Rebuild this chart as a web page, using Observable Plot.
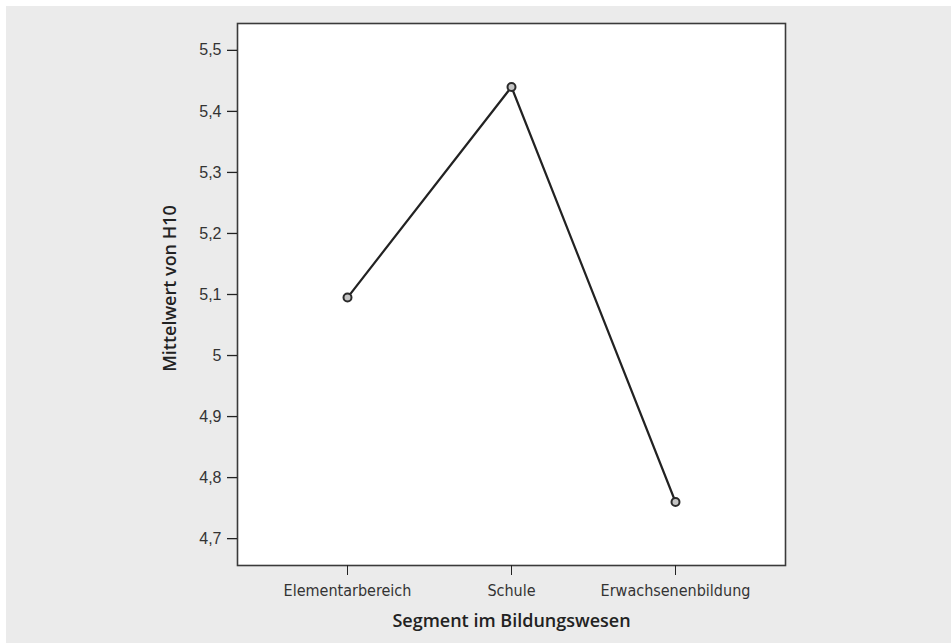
<!DOCTYPE html>
<html><head><meta charset="utf-8">
<script src="https://cdn.jsdelivr.net/npm/d3@7"></script>
<script src="https://cdn.jsdelivr.net/npm/@observablehq/plot@0.6"></script>
<style>
html,body{margin:0;padding:0;background:#fff;}
#bg{position:absolute;left:6px;top:6px;width:945px;height:637px;background:#ebebeb;}
</style></head><body><div id="bg"></div>
<script>
const segments = ["Elementarbereich", "Schule", "Erwachsenenbildung"];
const means = [5.095, 5.44, 4.76];
const yTicks = [4.7, 4.8, 4.9, 5.0, 5.1, 5.2, 5.3, 5.4, 5.5];
const yTickLabels = ["4,7", "4,8", "4,9", "5", "5,1", "5,2", "5,3", "5,4", "5,5"];
const xTitle = "Segment im Bildungswesen";
const yTitle = "Mittelwert von H10";

const data = segments.map((s, i) => ({segment: s, mean: means[i]}));

const plot = Plot.plot({
  width: 945, height: 637,
  marginLeft: 231, marginTop: 17, marginRight: 166, marginBottom: 78,
  style: {background: "transparent", overflow: "visible"},
  x: {type: "point", domain: segments, padding: 0.667},
  y: {domain: [4.656, 5.544]},
  marks: [
    Plot.frame({fill: "white", stroke: "#3a3a3a", strokeWidth: 1.6}),
    Plot.axisY({ticks: yTicks, tickFormat: d => yTickLabels[yTicks.indexOf(d)], tickSize: 10, tickPadding: 6,
      stroke: "#222", strokeWidth: 1.3, fill: "#333", fontSize: 16, fontFamily: "Liberation Sans, Arial, sans-serif", label: null}),
    Plot.axisX({tickSize: 10, tickPadding: 9, stroke: "#222", strokeWidth: 1, fill: "#333", fontSize: 16,
      fontFamily: "Liberation Sans Narrow, DejaVu Sans Condensed, sans-serif", label: null}),
    Plot.text([xTitle], {text: d => d, frameAnchor: "bottom", dy: 61, fontSize: 18, fontWeight: 600,
      fontFamily: "Open Sans, sans-serif", fill: "#222"}),
    Plot.text([yTitle], {text: d => d, frameAnchor: "left", textAnchor: "middle", dx: -67, dy: -6, rotate: -90, fontSize: 18, fontWeight: 600,
      fontFamily: "Open Sans, sans-serif", fill: "#222"}),
    Plot.line(data, {x: "segment", y: "mean", stroke: "#222", strokeWidth: 2.2}),
    Plot.dot(data, {x: "segment", y: "mean", r: 4, fill: "#c4c4c4", stroke: "#2a2a2a", strokeWidth: 2})
  ]
});
plot.style.position = "absolute";
plot.style.left = "6px";
plot.style.top = "6px";
document.body.appendChild(plot);
</script>
</body></html>
